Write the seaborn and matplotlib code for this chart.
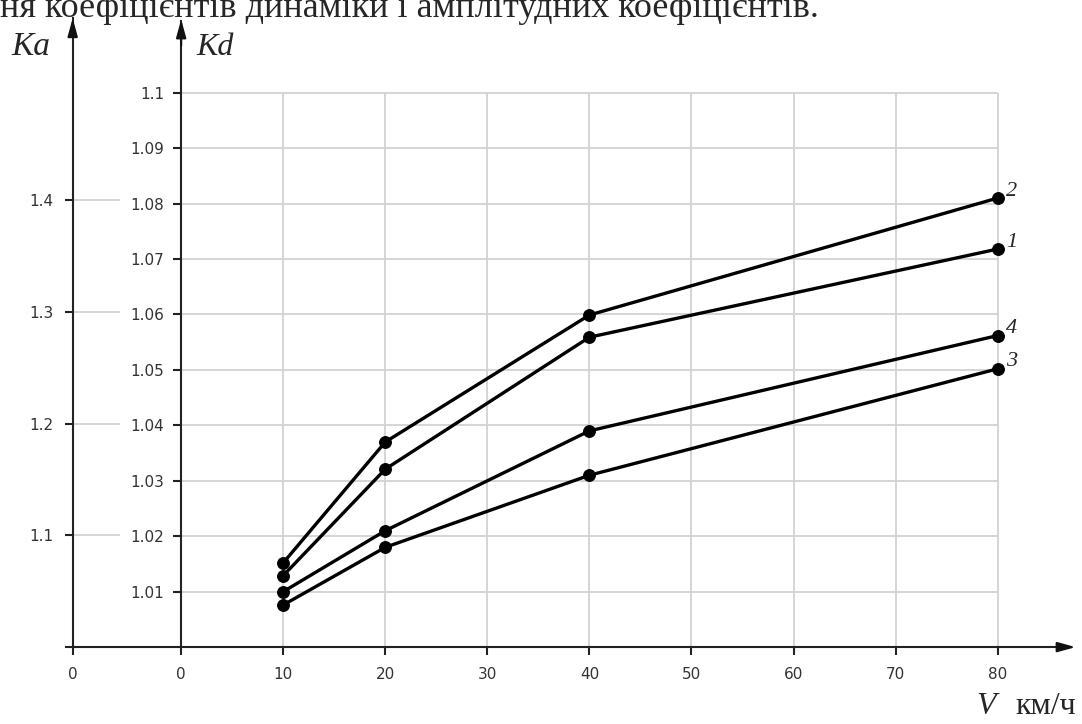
import pandas as pd
import seaborn as sns
import matplotlib.pyplot as plt

# --- data
speeds = [10, 20, 40, 80]
kd_1 = [1.0129, 1.0321, 1.0559, 1.0718]
kd_2 = [1.0152, 1.0370, 1.0599, 1.0810]
kd_3 = [1.0076, 1.0180, 1.0310, 1.0502]
kd_4 = [1.0100, 1.0210, 1.0390, 1.0562]
curve_names = ['1', '2', '3', '4']

x_ticks = [0, 10, 20, 30, 40, 50, 60, 70, 80]
kd_ticks = [1.01, 1.02, 1.03, 1.04, 1.05, 1.06, 1.07, 1.08, 1.09, 1.1]
kd_labels = ['1.01', '1.02', '1.03', '1.04', '1.05', '1.06', '1.07', '1.08', '1.09', '1.1']
ka_ticks = [1.1, 1.2, 1.3, 1.4]
ka_labels = ['1.1', '1.2', '1.3', '1.4']

title_text = 'ня коефіцієнтів динаміки і амплітудних коефіцієнтів.'

df = pd.DataFrame({
    'V': speeds * 4,
    'Kd': kd_1 + kd_2 + kd_3 + kd_4,
    'curve': [c for c in curve_names for _ in speeds],
})

sns.set_theme(style='white')
plt.rcParams['font.family'] = ['DejaVu Sans']

KA_X = -10.63          # where the outer Ka axis stands
GRID = '#d2d2d2'
TXT = '#333333'

fig = plt.figure(figsize=(10.82, 7.24), dpi=100)
ax = fig.add_axes([0, 0, 1, 1])
ax.set_xlim(-17.75, 88.26)
ax.set_ylim(0.98613, 1.11672)

# grid (only inside the 0..80 / 1.0..1.1 box)
ax.hlines(kd_ticks, 0, 80, color=GRID, lw=1.3, zorder=0)
ax.vlines(x_ticks[1:], 1.0, 1.1, color=GRID, lw=1.3, zorder=0)

for c in curve_names:
    sub = df[df['curve'] == c]
    sns.lineplot(data=sub, x='V', y='Kd', color='black', marker='o',
                 markersize=8.5, markeredgecolor='black', lw=2.4, ax=ax,
                 zorder=3)
    last = sub.iloc[-1]
    ax.annotate(c, xy=(last['V'], last['Kd']), xytext=(6, 5),
                textcoords='offset points', ha='left', va='center',
                fontsize=16, fontstyle='italic', family='Liberation Serif')

# axes: Kd spine at x=0, V axis at Kd=1.0
for s in ['top', 'right']:
    ax.spines[s].set_visible(False)
ax.spines['left'].set_position(('data', 0))
ax.spines['left'].set_bounds(1.0, 1.113)
ax.spines['bottom'].set_position(('data', 1.0))
ax.spines['bottom'].set_bounds(-11.3, 87.0)
for s in ['left', 'bottom']:
    ax.spines[s].set_color('#222222')
    ax.spines[s].set_linewidth(1.5)

ax.set_xticks([KA_X] + x_ticks)
ax.set_xticklabels(['0'] + [str(v) for v in x_ticks])
ax.set_yticks(kd_ticks)
ax.set_yticklabels(kd_labels)
ax.tick_params(axis='x', direction='out', length=6, width=1.5, color='#222222',
               pad=8, labelsize=11, labelcolor=TXT, bottom=True)
ax.tick_params(axis='y', direction='out', length=6, width=1.5, color='#222222',
               pad=6, labelsize=11, labelcolor=TXT, left=True)
for lab in ax.get_yticklabels():
    lab.set_va('center_baseline')
ax.set_xlabel('')
ax.set_ylabel('')

# arrow heads
arr = dict(arrowstyle='-|>,head_length=0.9,head_width=0.25', color='#111111', lw=1.5)
ax.annotate('', xy=(87.9, 1.0), xytext=(86.0, 1.0), arrowprops=arr)
ax.annotate('', xy=(0, 1.1137), xytext=(0, 1.108), arrowprops=arr)

# outer Ka axis
ax2 = ax.twinx()
ax2.set_ylim(0.93105, 1.57938)
for s in ['top', 'right', 'bottom']:
    ax2.spines[s].set_visible(False)
ax2.spines['left'].set_visible(True)
ax2.spines['left'].set_position(('data', KA_X))
ax2.spines['left'].set_bounds(1.0, 1.563)
ax2.spines['left'].set_color('#222222')
ax2.spines['left'].set_linewidth(1.5)
ax2.yaxis.set_ticks_position('left')
ax2.set_yticks(ka_ticks)
ax2.set_yticklabels(ka_labels)
ax2.tick_params(axis='y', direction='out', length=6, width=1.5, color='#222222',
                pad=8, labelsize=11, labelcolor=TXT, left=True, right=False)
ax2.hlines(ka_ticks, KA_X, -6.0, color=GRID, lw=1.3, zorder=0)
ax2.annotate('', xy=(KA_X, 1.5655), xytext=(KA_X, 1.553), arrowprops=arr)
ax2.grid(False)

# axis names
serif = 'Liberation Serif'
ax.text(-16.6, 1.1082, 'Ka', ha='left', va='center', fontsize=24,
        fontstyle='italic', family=serif)
ax.text(1.45, 1.1082, 'Kd', ha='left', va='center', fontsize=23,
        fontstyle='italic', family=serif)
ax.text(77.9, 0.9892, 'V', ha='left', va='center', fontsize=23,
        fontstyle='italic', family=serif)
ax.text(87.7, 0.9892, 'км/ч', ha='right', va='center', fontsize=23,
        family=serif)

fig.text(0.0, 1 - 17 / 724, title_text, ha='left', va='baseline',
         fontsize=26, family=serif)

fig.savefig('out.png', dpi=100)
plt.close()
